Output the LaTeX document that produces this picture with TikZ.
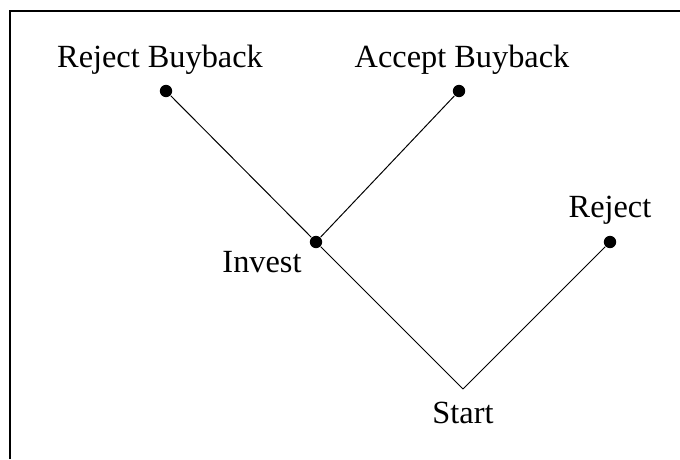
\documentclass[tikz,border=0pt]{standalone}
\usepackage{fontspec}
\setmainfont{Liberation Serif}
\tikzset{
    dot/.style={circle,fill=black,inner sep=0pt,minimum size=0.31cm},
    lbl/.style={anchor=base,inner sep=0pt,font=\fontsize{23}{27}\selectfont}
}
\begin{document}
    \begin{tikzpicture}[line width=0.7pt]
        \useasboundingbox(0,0)rectangle(17,11.475);
        \draw[line width=1.4pt](0.25,0)--(0.25,11.2)--(17,11.2);
        % decision points
        \foreach \n/\x/\y in {
        rb/4.15/9.2,
        ab/11.475/9.2,
        inv/7.9/5.425,
        rej/15.25/5.425}{
            \node[dot](\n)at(\x,\y){};
        }
        \coordinate(start)at(11.575,1.75);
        \draw(start)--(inv);
        \draw(start)--(rej);
        \draw(inv)--(rb);
        \draw(inv)--(ab);
        \node[lbl](rblbl)at(4.0,9.8){Reject Buyback};
        \node[lbl](ablbl)at(11.55,9.8){Accept Buyback};
        \node[lbl](rejlbl)at(15.25,6.05){Reject};
        \node[lbl](invlbl)at(6.55,4.675){Invest};
        \node[lbl](startlbl)at(11.575,0.9){Start};
    \end{tikzpicture}
\end{document}
